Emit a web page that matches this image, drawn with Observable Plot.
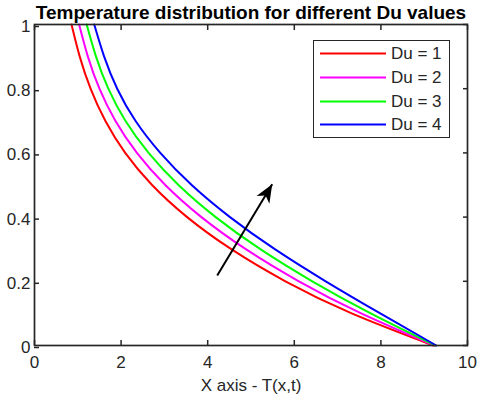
<!DOCTYPE html>
<html>
<head>
<meta charset="utf-8">
<script src="https://cdn.jsdelivr.net/npm/d3@7"></script>
<script src="https://cdn.jsdelivr.net/npm/@observablehq/plot@0.6"></script>
<style>
  html, body { margin: 0; padding: 0; background: #fff; }
  #wrap { position: relative; width: 480px; height: 399px; font-family: "Liberation Sans", Arial, sans-serif; }
  #legend { position: absolute; left: 313px; top: 40px; width: 135px; height: 96px; border: 1.5px solid #262626; background: #fff; }
  .item { position: absolute; left: 0; height: 21px; width: 135px; }
  .item svg { position: absolute; left: 5.5px; top: 9px; }
  .item span { position: absolute; left: 77px; top: 0px; font-size: 17px; color: #262626; line-height: 21px; white-space: nowrap; }
</style>
</head>
<body>
<div id="wrap"><div id="chart"></div><div id="legend"></div></div>
<script>
const titleText = "Temperature distribution for different Du values";
const xLabel = "X axis - T(x,t)";
const duLabels = ["Du = 1", "Du = 2", "Du = 3", "Du = 4"];
const colors = ["#ff0000", "#ff00ff", "#00ff00", "#0000ff"];
const xTicks = [0, 2, 4, 6, 8, 10];
const yTicks = [0, 0.2, 0.4, 0.6, 0.8, 1];

// curve samples: x = T(x,t) at each position y
const yLevels = [1, 0.9, 0.8, 0.7, 0.6, 0.5, 0.4, 0.3, 0.2, 0.1, 0];
const du1X = [0.855, 1.045, 1.295, 1.635, 2.095, 2.715, 3.525, 4.545, 5.795, 7.325, 9.21];
const du2X = [1.03, 1.233, 1.50, 1.867, 2.365, 3.02, 3.855, 4.88, 6.105, 7.545, 9.233];
const du3X = [1.205, 1.421, 1.705, 2.099, 2.635, 3.325, 4.185, 5.215, 6.415, 7.765, 9.256];
const du4X = [1.38, 1.609, 1.91, 2.331, 2.905, 3.63, 4.515, 5.55, 6.725, 7.985, 9.279];

const arrowTail = [4.22, 0.218];
const arrowHead = [5.49, 0.502];

const seriesX = [du1X, du2X, du3X, du4X];
const rows = [];
seriesX.forEach((xs, s) => xs.forEach((x, i) => rows.push({du: duLabels[s], x, y: yLevels[i]})));

const arrowSymbol = {
  draw(context) {
    const L = 18, w = 7.5;
    context.moveTo(0, 0);
    context.lineTo(-w, L);
    context.lineTo(0, L * 0.72);
    context.lineTo(w, L);
    context.closePath();
  }
};

const chart = Plot.plot({
  width: 480, height: 399,
  marginLeft: 34, marginRight: 13, marginTop: 24, marginBottom: 54,
  style: { fontFamily: "'Liberation Sans', Arial, sans-serif", fontSize: "17px", color: "#262626", background: "white", overflow: "visible" },
  x: { domain: [0, 10] },
  y: { domain: [0, 1] },
  marks: [
    ...duLabels.map((d, s) => Plot.line(rows.filter(r => r.du === d), { x: "x", y: "y", stroke: colors[s], strokeWidth: 2, curve: "natural" })),
    Plot.link([{x1: arrowTail[0], y1: arrowTail[1], x2: arrowHead[0], y2: arrowHead[1]}], { x1: "x1", y1: "y1", x2: "x2", y2: "y2", stroke: "black", strokeWidth: 2 }),
    Plot.dot([arrowHead], { x: d => d[0], y: d => d[1], symbol: arrowSymbol, r: 5, fill: "black", stroke: "none", rotate: 31 }),
    Plot.frame({ stroke: "#262626", strokeWidth: 1.7 }),
    Plot.axisX(xTicks, { anchor: "bottom", tickSize: -5, tickPadding: 15, label: null, strokeWidth: 1.5, fontSize: 17, tickFormat: d => String(d) }),
    Plot.axisX(xTicks, { anchor: "top", tickSize: -5, tickFormat: () => "", label: null, strokeWidth: 1.5 }),
    Plot.axisY(yTicks, { anchor: "left", tickSize: -5, tickPadding: 9, label: null, strokeWidth: 1.5, fontSize: 17, dy: 2, tickFormat: d => String(d) }),
    Plot.axisY(yTicks, { anchor: "right", tickSize: -5, tickFormat: () => "", label: null, strokeWidth: 1.5 }),
    Plot.text([titleText], { text: d => d, frameAnchor: "top", dy: -19, lineAnchor: "top", fontWeight: "bold", fontSize: 19, fill: "black" }),
    Plot.text([xLabel], { text: d => d, frameAnchor: "bottom", dy: 33, lineAnchor: "top", fontSize: 17, fill: "#262626" })
  ]
});
document.getElementById("chart").appendChild(chart);

const legend = document.getElementById("legend");
duLabels.forEach((d, i) => {
  const item = document.createElement("div");
  item.className = "item";
  item.style.top = (2.3 + i * 23.6) + "px";
  item.innerHTML = `<svg width="68" height="3"><line x1="0" x2="66" y1="1.5" y2="1.5" stroke="${colors[i]}" stroke-width="2"/></svg><span>${d}</span>`;
  legend.appendChild(item);
});
</script>
</body>
</html>
